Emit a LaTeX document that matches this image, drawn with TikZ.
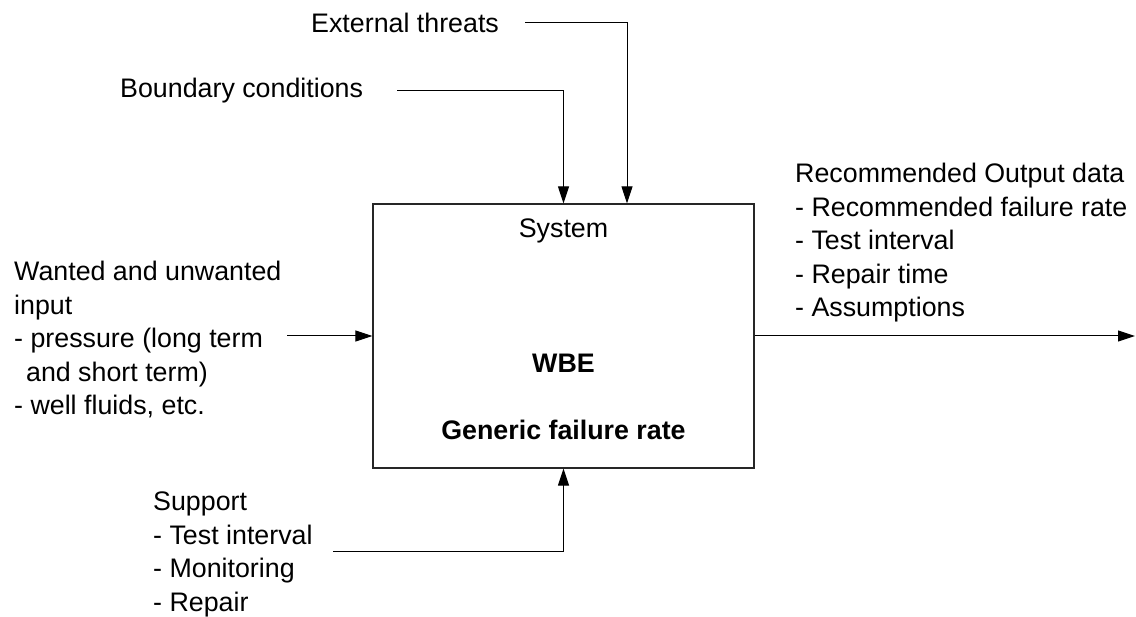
\documentclass[tikz,border=0pt]{standalone}
\usepackage{fontspec}
\setmainfont{Liberation Sans}
\usetikzlibrary{arrows.meta}
\begin{document}
\begin{tikzpicture}[x=1pt,y=-1pt,
  lbl/.style={inner sep=0pt,font=\fontsize{26.8}{33.5}\selectfont},
  blk/.style={lbl,align=left,anchor=north west},
  arr/.style={draw=black,line width=1pt,-{Triangle[length=17pt,width=11pt]}},
  sysbox/.style={draw=black!85,line width=1.3pt,minimum width=381pt,minimum height=264pt,inner sep=0pt}]
\useasboundingbox (0,0) rectangle (1136,617);
\fill[white] (0,0) rectangle (1136,617);

% central system block
\node[sysbox] (sys) at (563.5,336) {};
\node[lbl] (systitle) at (563.5,231) {System};
\node[lbl,font=\fontsize{26.8}{33.5}\selectfont\bfseries] (wbe) at (563.5,363) {WBE};
\node[lbl,font=\fontsize{26.8}{33.5}\selectfont\bfseries] (gfr) at (563.5,430) {Generic failure rate};

% controls from above
\node[lbl,anchor=west] (ext) at (311,23) {External threats};
\node[lbl,anchor=west] (bnd) at (120,91) {Boundary conditions};
\draw[arr] ([xshift=26pt]ext.east) -| ([xshift=63.5pt]sys.north);
\draw[arr] ([xshift=34pt]bnd.east) -| (sys.north);

% input from the left
\node[blk] (inp) at (14,261) {Wanted and unwanted\\input\\- pressure (long term\\\ \,and short term)\\- well fluids, etc.};
\coordinate (inStart) at (287,336);
\draw[arr] (inStart) -- (sys.west);

% output to the right
\node[blk] (outp) at (795,163) {Recommended Output data\\- Recommended failure rate\\- Test interval\\- Repair time\\- Assumptions};
\coordinate (outEnd) at (1135,336);
\draw[arr] (sys.east) -- (outEnd);

% mechanisms from below
\node[blk] (sup) at (153,492) {Support\\- Test interval\\- Monitoring\\- Repair};
\coordinate (supStart) at (333,551);
\draw[arr] (supStart) -| (sys.south);
\end{tikzpicture}
\end{document}
